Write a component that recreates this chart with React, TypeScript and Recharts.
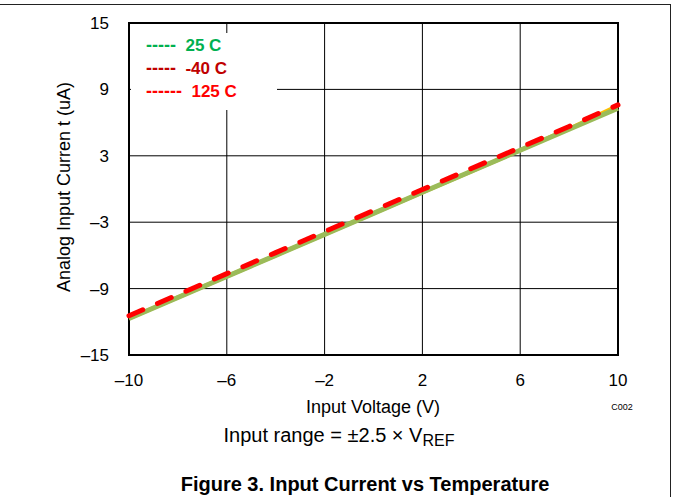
import React from "react";
import {
  LineChart,
  Line,
  XAxis,
  YAxis,
  CartesianGrid,
  ReferenceArea,
} from "recharts";

// input voltage (V)
const voltages = [-10, -8, -6, -4, -2, 0, 2, 4, 6, 8, 10];
// analog input current (uA) per temperature
const current25 = [-11.7, -9.8, -7.9, -6.0, -4.1, -2.2, -0.3, 1.6, 3.5, 5.4, 7.3];
const currentMinus40 = [-11.7, -9.8, -7.9, -6.0, -4.1, -2.2, -0.3, 1.6, 3.5, 5.45, 7.55];
const current125 = [-11.45, -9.55, -7.65, -5.75, -3.85, -1.95, -0.05, 1.85, 3.75, 5.65, 7.6];

const xTicks = [-10, -6, -2, 2, 6, 10];
const yTicks = [-15, -9, -3, 3, 9, 15];

const legendItems = [
  { dashes: "-----", label: "25 C", color: "#00B050" },
  { dashes: "-----", label: "-40 C", color: "#C00000" },
  { dashes: "------", label: "125 C", color: "#FF0000" },
];

const data = voltages.map((v, i) => ({
  v,
  t25: current25[i],
  tm40: currentMinus40[i],
  t125: current125[i],
}));

const font = "'Liberation Sans', Arial, sans-serif";
const fmt = (n: number) => String(n).replace("-", "\u2013");

export default function App() {
  return (
    <div
      style={{
        position: "fixed",
        left: 0,
        top: 0,
        width: 674,
        height: 497,
        background: "#fff",
        fontFamily: font,
      }}
    >
      {/* page frame */}
      <div
        style={{
          position: "absolute",
          left: -2,
          top: 4,
          width: 672,
          height: 500,
          borderTop: "1px solid #222",
          borderRight: "1px solid #222",
        }}
      />
      <LineChart
        width={674}
        height={497}
        data={data}
        margin={{ top: 23, right: 56, bottom: 112, left: 0 }}
      >
        <CartesianGrid stroke="#000" strokeWidth={1} />
        <XAxis
          dataKey="v"
          type="number"
          domain={[-10, 10]}
          ticks={xTicks}
          tickFormatter={fmt}
          height={30}
          axisLine={false}
          tickLine={false}
          tickMargin={13}
          tick={{ fill: "#000", fontSize: 17, fontFamily: font }}
          interval={0}
        />
        <YAxis
          type="number"
          domain={[-15, 15]}
          ticks={yTicks}
          tickFormatter={fmt}
          width={129}
          axisLine={false}
          tickLine={false}
          tickMargin={14}
          tick={{ fill: "#000", fontSize: 17, fontFamily: font }}
          interval={0}
        />
        <Line
          dataKey="tm40"
          stroke="#FFC000"
          strokeWidth={4}
          dot={false}
          isAnimationActive={false}
        />
        <Line
          dataKey="t25"
          stroke="#9BBB59"
          strokeWidth={5}
          dot={false}
          isAnimationActive={false}
        />
        <Line
          dataKey="t125"
          stroke="#FF0000"
          strokeWidth={5}
          strokeDasharray="15 16"
          strokeLinecap="round"
          dot={false}
          isAnimationActive={false}
        />
        <ReferenceArea
          x1={-10}
          x2={10}
          y1={-15}
          y2={15}
          fill="none"
          fillOpacity={0}
          stroke="#000"
          strokeWidth={2}
          ifOverflow="visible"
        />
      </LineChart>

      {/* legend box */}
      <div
        style={{
          position: "absolute",
          left: 131,
          top: 33,
          width: 146,
          height: 77,
          background: "#fff",
          paddingTop: 1,
          paddingLeft: 15,
          boxSizing: "border-box",
          fontWeight: "bold",
          fontSize: 17,
          lineHeight: "23px",
        }}
      >
        {legendItems.map((it) => (
          <div key={it.label} style={{ color: it.color, whiteSpace: "pre" }}>
            <span style={{ fontSize: 18 }}>{it.dashes}</span>
            {"  "}
            {it.label}
          </div>
        ))}
      </div>

      <div
        style={{
          position: "absolute",
          left: 64,
          top: 187,
          transform: "translate(-50%, -50%) rotate(-90deg)",
          fontSize: 18,
          whiteSpace: "nowrap",
        }}
      >
        Analog Input Curren t (uA)
      </div>
      <div
        style={{
          position: "absolute",
          left: 373,
          top: 407,
          transform: "translate(-50%, -50%)",
          fontSize: 18,
          whiteSpace: "nowrap",
        }}
      >
        Input Voltage (V)
      </div>
      <div
        style={{
          position: "absolute",
          left: 622,
          top: 407,
          transform: "translate(-50%, -50%)",
          fontSize: 9,
        }}
      >
        C002
      </div>
      <div
        style={{
          position: "absolute",
          left: 339,
          top: 437,
          transform: "translate(-50%, -50%)",
          fontSize: 20,
          whiteSpace: "nowrap",
        }}
      >
        Input range = ±2.5 × V<sub style={{ fontSize: 16, verticalAlign: "-4px" }}>REF</sub>
      </div>
      <div
        style={{
          position: "absolute",
          left: 365,
          top: 484,
          transform: "translate(-50%, -50%)",
          fontSize: 20,
          fontWeight: "bold",
          whiteSpace: "nowrap",
        }}
      >
        Figure 3. Input Current vs Temperature
      </div>
    </div>
  );
}
